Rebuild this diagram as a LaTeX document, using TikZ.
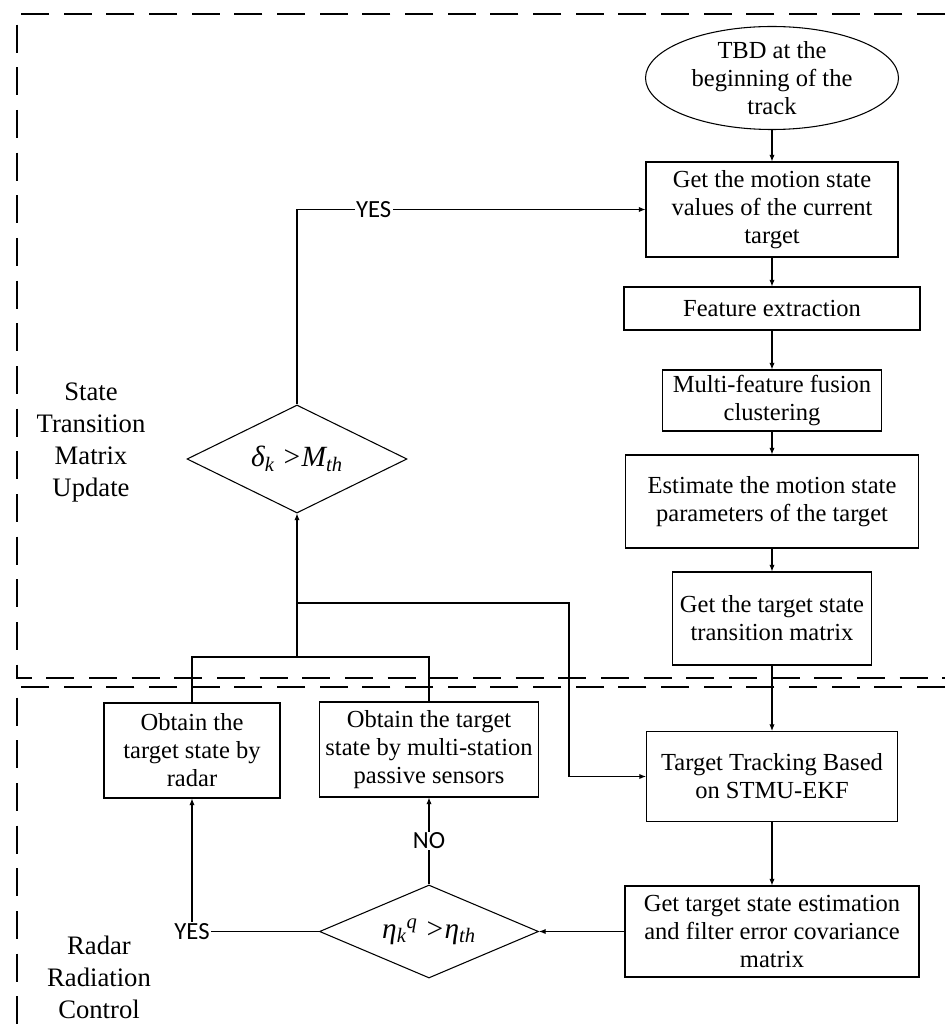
\documentclass[tikz,border=0pt]{standalone}
\usepackage{fontspec}
\setmainfont{Liberation Serif}
\newfontfamily\yesfont{Carlito}
\usetikzlibrary{arrows.meta,shapes.geometric,positioning,calc}

\begin{document}
\begin{tikzpicture}[
    x=0.75pt, y=-0.75pt,
    blk/.style={draw, line width=0.8pt, align=center, inner sep=1pt, font=\fontsize{18.4}{21}\selectfont},
    dec/.style={draw, diamond, aspect=2, line width=0.8pt, inner sep=0pt, font=\fontsize{22}{24}\selectfont\itshape},
    arr/.style={-{Latex[length=5pt, width=4pt]}, line width=0.8pt},
    lbl/.style={font=\fontsize{18.5}{20}\yesfont, fill=white, inner sep=1pt},
    zone/.style={line width=1.1pt, dash pattern=on 21pt off 11pt},
    reg/.style={align=center, font=\fontsize{20}{24}\selectfont}
]
\useasboundingbox (0,0) rectangle (945,1030);

% dashed zones
\draw[zone] (945,14) -- (17,14) -- (17,678) -- (945,678);
\draw[zone] (945,687) -- (17,687) -- (17,1030);

\node[reg] (stmu) at (91,443) {State\\Transition\\Matrix\\Update};
\node[reg] (rrc) at (99,977) {Radar\\Radiation\\Control};

% right column
\node[blk, ellipse, minimum width=189.75pt, minimum height=77.25pt, inner xsep=0pt, inner ysep=-7pt] (start) at (772,78) {TBD at the\\beginning of the\\track};
\node[blk, minimum width=189pt, minimum height=71.25pt] (motion) at (772,209.5) {Get the motion state\\values of the current\\target};
\node[blk, minimum width=222pt, minimum height=32.25pt] (feat) at (772,308.5) {Feature extraction};
\node[blk, minimum width=164.25pt, minimum height=45.75pt] (fuse) at (772,400.5) {Multi-feature fusion\\clustering};
\node[blk, minimum width=219.75pt, minimum height=69.75pt] (est) at (772,501.5) {Estimate the motion state\\parameters of the target};
\node[blk, minimum width=149.25pt, minimum height=69.75pt] (trans) at (772,618.5) {Get the target state\\transition matrix};
\node[blk, minimum width=188.25pt, minimum height=67.5pt] (track) at (772,776.5) {Target Tracking Based\\on STMU-EKF};
\node[blk, minimum width=220.5pt, minimum height=68.25pt] (cov) at (772,931.5) {Get target state estimation\\and filter error covariance\\matrix};

% left part
\node[blk, minimum width=132pt, minimum height=71.25pt] (radar) at (192,750.5) {Obtain the\\target state by\\radar};
\node[blk, minimum width=164.25pt, minimum height=71.25pt] (pas) at (429,749.5) {Obtain the target\\state by multi-station\\passive sensors};
\node[dec, minimum width=165pt, minimum height=81pt] (dmat) at (297,459) {δ\textsubscript{k} >M\textsubscript{th}};
\node[dec, minimum width=164.25pt, minimum height=69.75pt] (deta) at (429,931.5) {η\textsubscript{k}\textsuperscript{q} >η\textsubscript{th}};

\coordinate (join) at (297,657);
\coordinate (tap) at (297,603);
\coordinate (bend) at (569,603);

\draw[arr] (start) -- (motion);
\draw[arr] (motion) -- (feat);
\draw[arr] (feat) -- (fuse);
\draw[arr] (fuse) -- (est);
\draw[arr] (est) -- (trans);
\draw[arr] (trans) -- (track);
\draw[arr] (track) -- (cov);
\draw[arr] (cov) -- (deta);
\draw[arr] (deta) -| node[lbl, pos=0.5] {YES} (radar);
\draw[arr] (deta) -- node[lbl] {NO} (pas);
\draw[arr] (dmat) |- node[lbl, pos=0.61] {YES} (motion);
\draw[line width=0.8pt] (radar.north) |- (join) -| (pas.north);
\draw[arr] (join) -- (dmat);
\draw[arr] (tap) -- (bend) |- (track);
\end{tikzpicture}
\end{document}
